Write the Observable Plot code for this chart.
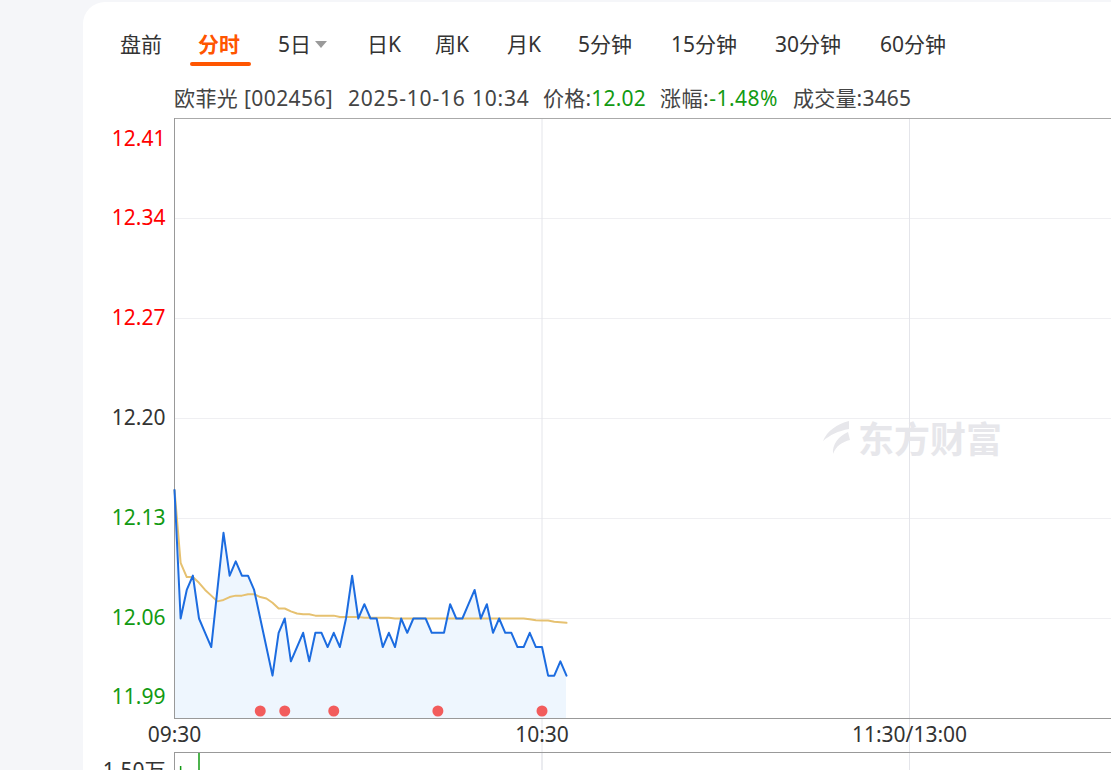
<!DOCTYPE html>
<html><head><meta charset="utf-8">
<script src="https://cdn.jsdelivr.net/npm/d3@7"></script>
<script src="https://cdn.jsdelivr.net/npm/@observablehq/plot@0.6"></script>
<style>
html,body{margin:0;padding:0;width:1111px;height:770px;overflow:hidden;background:#f5f6f9;font-family:"Noto Sans","Noto Sans CJK SC",sans-serif;}
.card{position:absolute;left:83px;top:2px;width:1200px;height:900px;background:#fff;border-radius:22px;}
.t{position:absolute;font-size:21px;color:#333;white-space:nowrap;line-height:21px;transform:translateY(-50%);}
.active{color:#ff5500;font-weight:bold;}
.ul{position:absolute;left:190px;top:62px;width:61px;height:3.5px;background:#ff5500;border-radius:2px;}
.tri{position:absolute;left:315px;top:41px;width:0;height:0;border-left:6.5px solid transparent;border-right:6.5px solid transparent;border-top:7px solid #9a9a9a;}
.info{color:#444;}
.g{color:#129a12;}
.wm{position:absolute;left:818px;top:419px;display:flex;align-items:center;color:#e7e7eb;font-family:"Noto Sans CJK SC",sans-serif;font-weight:bold;font-size:36px;line-height:36px;}
#main,#vol{position:absolute;left:0;width:1700px;}
#main{top:0;}
#vol{top:752px;}
#main svg,#vol svg{max-width:none !important;display:block;}
</style></head>
<body>
<div class="card"></div>
<div id="tabs"></div>
<div class="ul"></div>
<div class="tri"></div>
<div id="info"></div>
<div id="main"></div>
<div id="vol"></div>
<div class="wm"><svg width="36" height="36" viewBox="0 0 36 36"><path d="M31 2 C19 5 9 12 5 22 C12 16 20 12 31 10 Z" fill="#e7e7eb"/><path d="M30 13 C21 17 14 25 15 35 C18 27 24 23 32 21 Z" fill="#e7e7eb"/></svg><span style="margin-left:4px;letter-spacing:0px">东方财富</span></div>
<script>
// ---- data ----
const tabLabels = ["盘前","分时","5日","日K","周K","月K","5分钟","15分钟","30分钟","60分钟"];
const stockName = "欧菲光 [002456]";
const stockTime = "2025-10-16 10:34";
const lastPrice = "12.02";
const changePct = "-1.48%";
const volumeText = "3465";

// price per minute from 09:30 (index 0) to 10:34 (index 64)
const prices = [12.15,12.06,12.08,12.09,12.06,12.05,12.04,12.08,12.12,12.09,
  12.10,12.09,12.09,12.08,12.06,12.04,12.02,12.05,12.06,12.03,
  12.04,12.05,12.03,12.05,12.05,12.04,12.05,12.04,12.06,12.09,
  12.06,12.07,12.06,12.06,12.04,12.05,12.04,12.06,12.05,12.06,
  12.06,12.06,12.05,12.05,12.05,12.07,12.06,12.06,12.07,12.08,
  12.06,12.07,12.05,12.06,12.05,12.05,12.04,12.04,12.05,12.04,
  12.04,12.02,12.02,12.03,12.02];
// average price line
const avgPrices = [12.150,12.099,12.089,12.089,12.085,12.080,12.076,12.072,12.073,12.075,
  12.076,12.076,12.077,12.077,12.075,12.074,12.071,12.067,12.067,12.065,
  12.0635,12.063,12.063,12.062,12.062,12.062,12.062,12.061,12.061,12.061,
  12.061,12.0605,12.0605,12.0605,12.0605,12.0605,12.060,12.060,12.060,12.060,
  12.060,12.060,12.060,12.060,12.060,12.060,12.060,12.060,12.060,12.060,
  12.060,12.060,12.060,12.060,12.060,12.060,12.060,12.060,12.0595,12.0588,
  12.0586,12.0586,12.0578,12.0574,12.057];
const markerMinutes = [14,18,26,43,60];
const yTicks = [12.41,12.34,12.27,12.20,12.13,12.06,11.99];
const prevClose = 12.20;
const xTickMinutes = [0,60,120];
const xTickLabels = ["09:30","10:30","11:30/13:00"];
const vGridMinutes = [60,120,180];
const volMinutes = [1,4];
const volValues = [13250,14875];
const volMax = 15000;
const volMaxLabel = "1.50万";

// ---- html text ----
const tabLefts = [120,198,278,367,435,507,578,671,775,880];
const tabs = document.getElementById("tabs");
tabLabels.forEach((t,i)=>{
  const s=document.createElement("span");
  s.className="t"+(i===1?" active":"");
  s.style.left=tabLefts[i]+"px"; s.style.top="44px";
  s.textContent=t; tabs.appendChild(s);
});
const info = document.getElementById("info");
const parts = [
  [174, stockName, 0.4],
  [348, stockTime, 0.8],
  [543, "价格:<span class='g'>"+lastPrice+"</span>", 0.2],
  [660, "涨幅:<span class='g'>"+changePct+"</span>", 0.5],
  [793, "成交量:"+volumeText, 0.2]
];
parts.forEach(([l,h,ls])=>{
  const s=document.createElement("span");
  s.className="t info"; s.style.left=l+"px"; s.style.top="98px";
  s.style.letterSpacing=ls+"px";
  s.innerHTML=h; info.appendChild(s);
});

// ---- chart ----
const series = prices.map((p,i)=>({m:i,p,a:avgPrices[i]}));
const labelColor = d => d>prevClose ? "#ff0000" : d<prevClose ? "#129a12" : "#333333";
const font = '"Noto Sans","Noto Sans CJK SC",sans-serif';

const main = Plot.plot({
  width:1700, height:770,
  marginLeft:174, marginRight:56, marginTop:118, marginBottom:52,
  x:{domain:[0,240]},
  y:{domain:[yTicks[yTicks.length-1], yTicks[0]], axis:null},
  color:{type:"identity"},
  style:{background:"transparent", fontFamily:font, overflow:"visible", maxWidth:"none"},
  marks:[
    Plot.ruleY(yTicks.slice(1,-1), {stroke:"#efeff2"}),
    Plot.ruleX(vGridMinutes, {stroke:"#e4e5ea", insetBottom:-52}),
    Plot.areaY(series, {x:"m", y:"p", fill:"#eef6fe", clip:true}),
    Plot.ruleY([yTicks[0]], {stroke:"#aaaaaa"}),
    Plot.ruleY([yTicks[yTicks.length-1]], {stroke:"#999999"}),
    Plot.ruleX([0], {stroke:"#999999"}),
    Plot.lineY(series, {x:"m", y:"a", stroke:"#e6c170", strokeWidth:2}),
    Plot.lineY(series, {x:"m", y:"p", stroke:"#1c6ce0", strokeWidth:2}),
    Plot.dot(markerMinutes, {x:d=>d, frameAnchor:"bottom", dy:-7.5, r:5.5, fill:"#f25c5c"}),
    Plot.text(yTicks.slice(1,-1), {y:d=>d, frameAnchor:"left", textAnchor:"end", dx:-9, fill:labelColor, fontSize:21, text:d=>d.toFixed(2)}),
    Plot.text(yTicks.slice(0,1), {y:d=>d, frameAnchor:"left", textAnchor:"end", dx:-9, dy:21, fill:labelColor, fontSize:21, text:d=>d.toFixed(2)}),
    Plot.text(yTicks.slice(-1), {y:d=>d, frameAnchor:"left", textAnchor:"end", dx:-9, dy:-21, fill:labelColor, fontSize:21, text:d=>d.toFixed(2)}),
    Plot.axisX(xTickMinutes, {tickFormat:d=>xTickLabels[xTickMinutes.indexOf(d)], tickSize:0, tickPadding:9, fontSize:21, color:"#333", label:null})
  ]
});
main.style.maxWidth = "none";
document.getElementById("main").appendChild(main);

const volData = volMinutes.map((m,i)=>({m, v:volValues[i]}));
const vol = Plot.plot({
  width:1700, height:140,
  marginLeft:174, marginRight:56, marginTop:0, marginBottom:20,
  x:{domain:[0,240], axis:null},
  y:{domain:[0,volMax], axis:null},
  style:{background:"transparent", fontFamily:font, overflow:"visible", maxWidth:"none"},
  marks:[
    Plot.ruleX(vGridMinutes, {stroke:"#e4e5ea"}),
    Plot.ruleY([volMax], {stroke:"#999999"}),
    Plot.ruleX([0], {stroke:"#999999"}),
    Plot.ruleX(volData, {x:"m", y:"v", stroke:"#129a12", strokeWidth:1.5}),
    Plot.text([volMaxLabel], {frameAnchor:"top-left", textAnchor:"end", dx:-9, dy:11, fontSize:21, fill:"#333"})
  ]
});
vol.style.maxWidth = "none";
document.getElementById("vol").appendChild(vol);
</script>
</body></html>
